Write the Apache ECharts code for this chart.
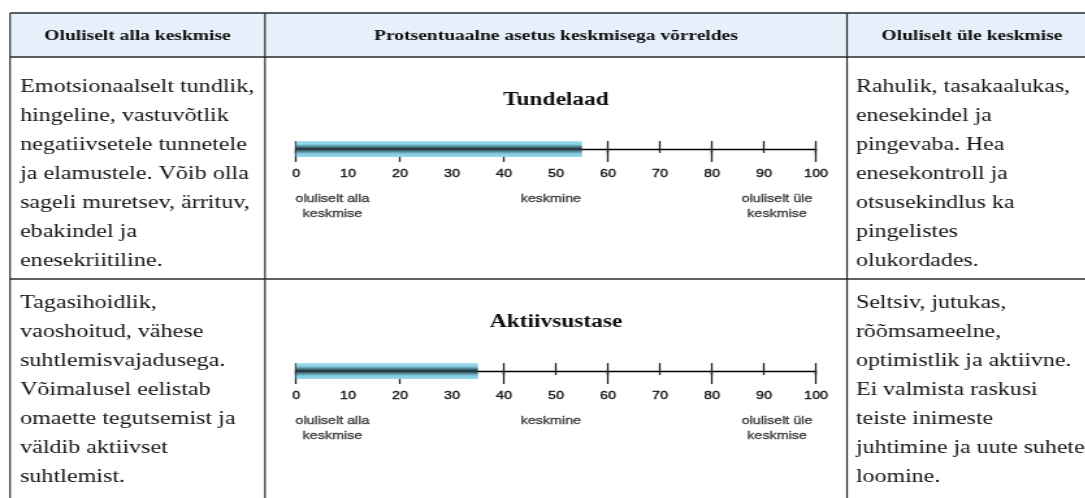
<!DOCTYPE html>
<html><head><meta charset="utf-8">
<script src="https://cdn.jsdelivr.net/npm/echarts@6/dist/echarts.min.js"></script>
<style>
html,body{margin:0;padding:0;background:#fff;overflow:hidden;width:1085px;height:498px;}
#c{position:absolute;left:0;top:0;width:834.6px;height:498px;transform:scaleX(1.3);transform-origin:0 0;}
</style></head><body><div id="c"></div>
<script>
// ---- data ----
const headers = ['Oluliselt alla keskmise', 'Protsentuaalne asetus keskmisega võrreldes', 'Oluliselt üle keskmise'];
const scaleNames = ['Tundelaad', 'Aktiivsustase'];
const scores = [55, 35];
const axisMin = 0, axisMax = 100, tickStep = 10, majorStep = 20;
const zoneLabels = ['oluliselt alla\nkeskmise', 'keskmine', 'oluliselt üle\nkeskmise'];
const zoneValues = [7, 49, 92.5];
const lowTexts = [
  'Emotsionaalselt tundlik,\nhingeline, vastuvõtlik\nnegatiivsetele tunnetele\nja elamustele. Võib olla\nsageli muretsev, ärrituv,\nebakindel ja\nenesekriitiline.',
  'Tagasihoidlik,\nvaoshoitud, vähese\nsuhtlemisvajadusega.\nVõimalusel eelistab\nomaette tegutsemist ja\nväldib aktiivset\nsuhtlemist.'
];
const highTexts = [
  'Rahulik, tasakaalukas,\nenesekindel ja\npingevaba. Hea\nenesekontroll ja\notsusekindlus ka\npingelistes\nolukordades.',
  'Seltsiv, jutukas,\nrõõmsameelne,\noptimistlik ja aktiivne.\nEi valmista raskusi\nteiste inimeste\njuhtimine ja uute suhete\nloomine.'
];

// ---- layout (reference pixels; x divided by stretch) ----
const S = 1.3;
const colX = [10, 265, 847, 1097];
const tableTop = 13, headerBottom = 57, rowDivider = 279, pageBottom = 498;
const axisY = [149, 371];
const axisLeft = 296, axisRight = 816;
const rowFirstLine = [87, 303];
const lineH = 29;
const serif = '"Liberation Serif", "Times New Roman", serif';
const sans = '"Liberation Sans", Arial, sans-serif';

const chart = echarts.init(document.getElementById('c'), null, {renderer: 'canvas'});

const grids = [], xAxes = [], yAxes = [], series = [];
const gradient = {
  type: 'linear', x: 0, y: 0, x2: 0, y2: 1,
  colorStops: [
    {offset: 0, color: '#a6e0f3'},
    {offset: 0.2, color: '#8ccfe5'},
    {offset: 0.36, color: '#4a808f'},
    {offset: 0.5, color: '#1f2b2f'},
    {offset: 0.64, color: '#4a808f'},
    {offset: 0.8, color: '#86cbe2'},
    {offset: 1, color: '#92d8f0'}
  ]
};
const tickLine = {color: '#1a1a1a', width: 1.3};
scaleNames.forEach((name, i) => {
  grids.push({left: axisLeft / S, width: (axisRight - axisLeft) / S, top: axisY[i] - 20, height: 40,
    containLabel: false, outerBoundsMode: 'none'});
  const base = {gridIndex: i, type: 'value', min: axisMin, max: axisMax, position: 'bottom', offset: -20,
    splitLine: {show: false}, axisLabel: {show: false}, axisLine: {show: false}};
  xAxes.push(Object.assign({}, base, {
    interval: tickStep,
    axisLine: {show: true, onZero: false, lineStyle: {color: '#000', width: 1.3}},
    axisTick: {show: true, inside: true, length: 8, lineStyle: tickLine},
    axisLabel: {show: true, margin: 19, fontFamily: sans, fontSize: 11, color: '#111',
      textBorderColor: '#111', textBorderWidth: 0.35}
  }));
  xAxes.push(Object.assign({}, base, {
    interval: majorStep,
    axisTick: {show: true, inside: false, length: 13, lineStyle: tickLine}
  }));
  xAxes.push(Object.assign({}, base, {
    interval: tickStep,
    axisTick: {show: true, inside: false, length: 4, lineStyle: tickLine}
  }));
  yAxes.push({gridIndex: i, type: 'category', data: [name], show: false});
  series.push({type: 'bar', xAxisIndex: i * 3, yAxisIndex: i, data: [scores[i]], barWidth: 16,
    itemStyle: {color: gradient}, silent: true, z: 3});
  series.push({type: 'scatter', xAxisIndex: i * 3, yAxisIndex: i, symbolSize: 0, silent: true,
    data: zoneValues.map((v, k) => ({value: [v, 0], name: zoneLabels[k]})),
    label: {show: true, formatter: '{b}', position: 'inside', offset: [0, 42], align: 'center', verticalAlign: 'top',
      fontFamily: sans, fontSize: 11, lineHeight: 15, color: '#1a1a1a', textBorderColor: '#1a1a1a', textBorderWidth: 0.35}});
});

const graphic = [];
graphic.push({type: 'rect', shape: {x: colX[0] / S, y: tableTop, width: (colX[3] - colX[0]) / S, height: headerBottom - tableTop},
  style: {fill: '#e6f0fb'}, z: -10});
[tableTop, headerBottom, rowDivider].forEach(y => {
  graphic.push({type: 'line', shape: {x1: colX[0] / S, y1: y, x2: colX[3] / S, y2: y}, style: {stroke: '#2a2a2a', lineWidth: 1.5}});
});
[colX[0], colX[1], colX[2]].forEach(x => {
  graphic.push({type: 'line', shape: {x1: x / S, y1: tableTop, x2: x / S, y2: pageBottom}, style: {stroke: '#2a2a2a', lineWidth: 1.2}});
});
headers.forEach((h, k) => {
  graphic.push({type: 'text', x: (colX[k] + colX[k + 1]) / 2 / S, y: (tableTop + headerBottom) / 2 + 1,
    style: {text: h, font: 'bold 15px ' + serif, fill: '#111', align: 'center', verticalAlign: 'middle', textAlign: 'center', textVerticalAlign: 'middle'}});
});
scaleNames.forEach((name, i) => {
  graphic.push({type: 'text', x: (axisLeft + axisRight) / 2 / S, y: axisY[i] - 49,
    style: {text: name, font: 'bold 18px ' + serif, fill: '#111', align: 'center', verticalAlign: 'middle', textAlign: 'center', textVerticalAlign: 'middle'}});
  graphic.push({type: 'text', x: 20 / S, y: rowFirstLine[i] - lineH / 2, scaleX: 1.03,
    style: {text: lowTexts[i], font: '18px ' + serif, fill: '#151515', lineHeight: lineH, align: 'left', verticalAlign: 'top', textAlign: 'left', textVerticalAlign: 'top'}});
  graphic.push({type: 'text', x: 856 / S, y: rowFirstLine[i] - lineH / 2, scaleX: 1.02,
    style: {text: highTexts[i], font: '18px ' + serif, fill: '#151515', lineHeight: lineH, align: 'left', verticalAlign: 'top', textAlign: 'left', textVerticalAlign: 'top'}});
});

chart.setOption({
  animation: false,
  backgroundColor: '#ffffff',
  grid: grids, xAxis: xAxes, yAxis: yAxes, series: series, graphic: graphic
});
</script></body></html>
